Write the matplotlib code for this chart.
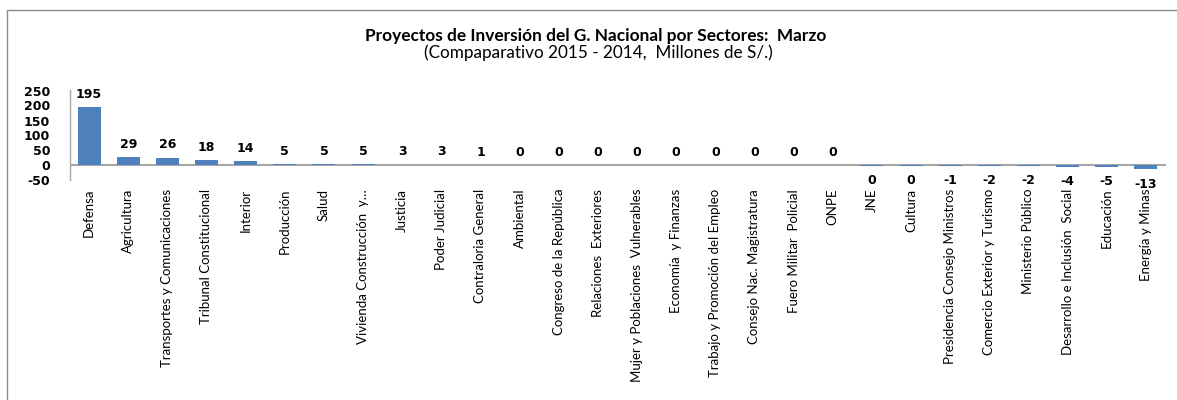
import matplotlib
matplotlib.use("Agg")
import matplotlib.pyplot as plt
from matplotlib.patches import Rectangle

# Sector names and variation (millions of S/.), March 2015 vs 2014
sectores = [
    "Defensa", "Agricultura", "Transportes y Comunicaciones", "Tribunal Constitucional",
    "Interior", "Producción", "Salud", "Vivienda Construcción  y…", "Justicia",
    "Poder Judicial", "Contraloria General", "Ambiental", "Congreso de la República",
    "Relaciones  Exteriores", "Mujer y Poblaciones  Vulnerables", "Economía  y Finanzas",
    "Trabajo y Promoción del Empleo", "Consejo Nac. Magistratura", "Fuero Militar  Policial",
    "ONPE", "JNE", "Cultura", "Presidencia Consejo Ministros", "Comercio Exterior y Turismo",
    "Ministerio Público", "Desarrollo e Inclusión  Social", "Educación", "Energía y Minas",
]
variacion = [
    195, 29, 26, 18, 14, 5, 5, 5, 3, 3, 1, 0.4, 0.3,
    0.3, 0.3, 0.3, 0.3, 0.0, 0.0, 0.0,
    -0.3, -0.4, -1, -2, -2, -4, -5, -13,
]
y_ticks = [-50, 0, 50, 100, 150, 200, 250]

BAR_COLOR = "#4F81BD"
LABEL_FONT = "Lato"
NUM_FONT = "DejaVu Sans"

fig = plt.figure(figsize=(11.77, 4.0), dpi=100)

# outer chart frame (open to the right and bottom)
fig.patches.append(Rectangle((7 / 1177, -0.2), 1.2, 1.2 - 10 / 400,
                             transform=fig.transFigure, fill=False,
                             edgecolor="#8C8C8C", linewidth=1.0))

ax = fig.add_axes([69.5 / 1177, 1 - 180.5 / 400, (1165.5 - 69.5) / 1177, 90 / 400])

x = list(range(len(sectores)))
bars = ax.bar(x, variacion, width=0.59, color=BAR_COLOR, zorder=2)

ax.set_xlim(-0.5, len(sectores) - 0.5)
ax.set_ylim(-50, 250)
ax.set_yticks(y_ticks)
ax.set_yticklabels([str(t) for t in y_ticks], fontfamily=NUM_FONT,
                   fontweight="bold", fontsize=9)
ax.tick_params(axis="y", length=0, pad=14)

ax.set_xticks(x)
ax.set_xticklabels(sectores, rotation=90, fontfamily=LABEL_FONT, fontsize=9.5,
                   va="top", ha="center")
ax.tick_params(axis="x", length=0, pad=6)

for s in ["top", "right", "bottom"]:
    ax.spines[s].set_visible(False)
ax.spines["left"].set_color("#A6A6A6")
ax.spines["left"].set_linewidth(1.0)
ax.axhline(0, color="#A6A6A6", linewidth=1.5, zorder=1)
ax.patch.set_visible(False)

# value labels: above positive bars, below negative ones
for xi, v in zip(x, variacion):
    txt = f"{round(v):d}"
    if v >= 0:
        ax.annotate(txt, (xi, v), xytext=(0, 4.5), textcoords="offset points",
                    ha="center", va="bottom", fontfamily=NUM_FONT,
                    fontweight="bold", fontsize=9)
    else:
        ax.annotate(txt, (xi, v), xytext=(0, -6), textcoords="offset points",
                    ha="center", va="top", fontfamily=NUM_FONT,
                    fontweight="bold", fontsize=9)

fig.text(596 / 1177, 1 - 41 / 400,
         "Proyectos de Inversión del G. Nacional por Sectores:  Marzo",
         ha="center", va="baseline", fontfamily=LABEL_FONT, fontweight="bold",
         fontsize=12.4)
fig.text(598 / 1177, 1 - 58 / 400,
         "(Compaparativo 2015 - 2014,  Millones de S/.)",
         ha="center", va="baseline", fontfamily=LABEL_FONT, fontsize=12.3)

fig.savefig("out.png", dpi=100)
